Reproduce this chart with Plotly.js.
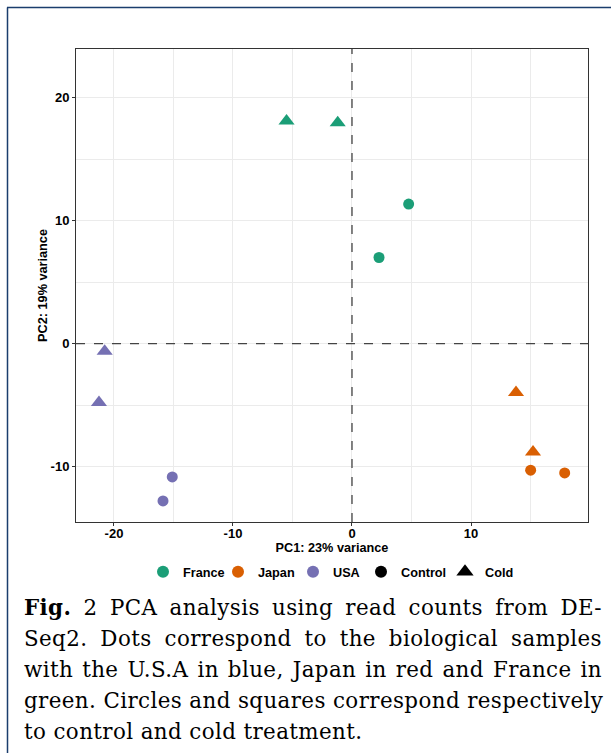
<!DOCTYPE html>
<html>
<head>
<meta charset="utf-8">
<script src="https://cdn.plot.ly/plotly-3.0.1.min.js"></script>
<style>
  html, body { margin: 0; padding: 0; background: #fff; }
  #chart { width: 611px; height: 753px; }
</style>
</head>
<body>
<div id="chart"></div>
<script>
// ---- data ----
const sampleCountry   = ['France','France','France','France','Japan','Japan','Japan','Japan','USA','USA','USA','USA'];
const sampleCondition = ['Cold','Cold','Control','Control','Cold','Cold','Control','Control','Cold','Cold','Control','Control'];
const pc1 = [-5.5, -1.2, 4.76, 2.27, 13.78, 15.21, 15.01, 17.87, -20.78, -21.26, -15.1, -15.88];
const pc2 = [18.1, 17.95, 11.34, 7.0, -3.97, -8.8, -10.28, -10.5, -0.62, -4.78, -10.83, -12.78];
const countries = ['France', 'Japan', 'USA'];
const conditions = ['Control', 'Cold'];
const countryColors = ['#1B9E77', '#D95F02', '#7570B3'];
const conditionSymbols = ['circle', 'triangle-up'];
const xTickVals = [-20, -10, 0, 10];
const xTickText = ['-20', '-10', '0', '10'];
const yTickVals = [-10, 0, 10, 20];
const yTickText = ['-10', '0', '10', '20'];
const xTitle = 'PC1: 23% variance';
const yTitle = 'PC2: 19% variance';
const captionLines = [
  '<b>Fig.</b> 2 PCA analysis using read counts from DE-',
  'Seq2. Dots correspond to the biological samples',
  'with the U.S.A in blue, Japan in red and France in',
  'green. Circles and squares correspond respectively',
  'to control and cold treatment.'
];

// ---- layout geometry ----
const W = 611, H = 753;
const M = {l: 76, r: 23, t: 49, b: 231};
const pw = W - M.l - M.r, ph = H - M.t - M.b;
const px2x = p => (p - M.l) / pw;
const py2y = p => (H - M.b - p) / ph;
// pixel x of each legend key symbol centre (France, Japan, USA, Control, Cold)
const legendKeyPx = [163, 238, 313, 381, 465];

const legendNames = ['legend', 'legend2', 'legend3', 'legend4', 'legend5'];

const traces = [];
countries.forEach((c, ci) => {
  conditions.forEach((cond, ki) => {
    const xs = [], ys = [];
    for (let i = 0; i < pc1.length; i++) {
      if (sampleCountry[i] === c && sampleCondition[i] === cond) { xs.push(pc1[i]); ys.push(pc2[i]); }
    }
    traces.push({
      type: 'scatter', mode: 'markers', x: xs, y: ys, showlegend: false,
      marker: {color: countryColors[ci], symbol: conditionSymbols[ki], size: ki === 0 ? 11 : 14,
               line: {width: 0}},
      hoverinfo: 'x+y'
    });
  });
});
// legend entries (each in its own legend box so spacing can follow the reference)
let li = 0;
countries.forEach((c, ci) => {
  traces.push({type: 'scatter', mode: 'markers', x: [null], y: [null], name: c, legend: legendNames[li++],
    marker: {color: countryColors[ci], symbol: 'circle', size: 12}});
});
conditions.forEach((cond, ki) => {
  traces.push({type: 'scatter', mode: 'markers', x: [null], y: [null], name: cond, legend: legendNames[li++],
    marker: {color: '#000', symbol: conditionSymbols[ki], size: ki === 0 ? 12 : 15}});
});

const sans = 'Liberation Sans, Arial, sans-serif';
const tickFont = {family: sans, size: 13, color: '#000', weight: 'bold'};
const axisCommon = {
  showline: true, mirror: true, linecolor: '#333', linewidth: 1,
  ticks: 'outside', ticklen: 3, tickcolor: '#333', tickwidth: 1,
  showgrid: true, gridcolor: '#EBEBEB', gridwidth: 1,
  zeroline: false, tickmode: 'array',
  minor: {dtick: 5, tick0: 0, showgrid: true, gridcolor: '#EBEBEB', gridwidth: 1, ticks: ''},
  tickfont: tickFont
};

const annotations = captionLines.map((t, i) => ({
  xref: 'paper', yref: 'paper', x: px2x(22), y: py2y(607 + i * 31),
  xanchor: 'left', yanchor: 'middle', align: 'left', showarrow: false,
  text: t, font: {family: 'DejaVu Serif, Liberation Serif, serif', size: 21.4, color: '#000'}
}));

const layout = {
  width: W, height: H,
  margin: M,
  paper_bgcolor: '#fff', plot_bgcolor: '#fff',
  xaxis: Object.assign({}, axisCommon, {range: [-23.19, 19.83], tickvals: xTickVals, ticktext: xTickText,
    ticklabelstandoff: -4,
    title: {text: xTitle, font: {family: sans, size: 12.7, color: '#000', weight: 'bold'}, standoff: 1}}),
  yaxis: Object.assign({}, axisCommon, {range: [-14.49, 23.94], tickvals: yTickVals, ticktext: yTickText,
    title: {text: yTitle, font: {family: sans, size: 12.7, color: '#000', weight: 'bold'}, standoff: 0}}),
  showlegend: true,
  shapes: [
    {type: 'line', xref: 'x', yref: 'paper', x0: 0, x1: 0, y0: 0, y1: 1, line: {color: '#444', width: 1.3, dash: 'dash'}},
    {type: 'line', xref: 'paper', yref: 'y', x0: 0, x1: 1, y0: 0, y1: 0, line: {color: '#444', width: 1.3, dash: 'dash'}},
    {type: 'line', xref: 'paper', yref: 'paper', x0: px2x(7.5), x1: px2x(7.5), y0: py2y(7.5), y1: py2y(760), line: {color: '#1B3D6D', width: 1.5}},
    {type: 'line', xref: 'paper', yref: 'paper', x0: px2x(7), x1: px2x(620), y0: py2y(7.5), y1: py2y(7.5), line: {color: '#1B3D6D', width: 1.5}}
  ],
  annotations: annotations
};
legendNames.forEach((ln, i) => {
  layout[ln] = {orientation: 'h', x: px2x(legendKeyPx[i] - 20), xanchor: 'left', y: py2y(572), yanchor: 'middle',
    font: {family: sans, size: 12.7, color: '#000', weight: 'bold'},
    itemwidth: 30, bgcolor: 'rgba(0,0,0,0)', borderwidth: 0};
});

Plotly.newPlot('chart', traces, layout, {displayModeBar: false, staticPlot: true}).then(() => {
  // slight letter spacing + justify caption lines (all but the last) to the text block width
  const targetWidth = 600 - 22;
  const texts = document.querySelectorAll('#chart .annotation-text');
  texts.forEach((el, i) => {
    el.style.letterSpacing = '0.4px';
    if (i >= captionLines.length - 1) return;
    const w = el.getBBox().width;
    const plain = el.textContent;
    const spaces = (plain.match(/ /g) || []).length;
    if (spaces > 0 && w < targetWidth) {
      el.style.wordSpacing = ((targetWidth - w) / spaces) + 'px';
    }
  });
});
</script>
</body>
</html>
